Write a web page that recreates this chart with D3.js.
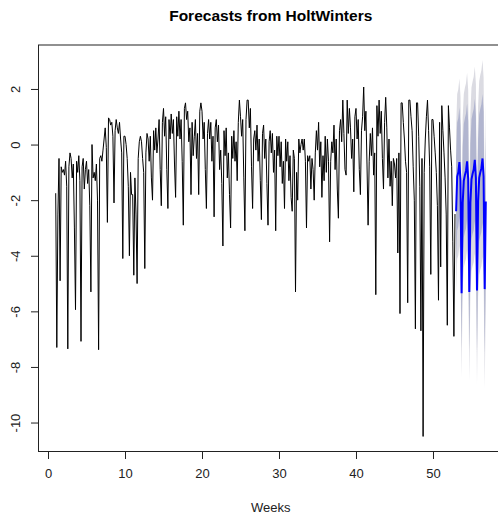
<!DOCTYPE html>
<html>
<head>
<meta charset="utf-8">
<script src="https://cdn.jsdelivr.net/npm/d3@7/dist/d3.min.js"></script>
<style>
  html, body { margin: 0; padding: 0; background: #fff; }
  svg { display: block; font-family: "Liberation Sans", Arial, sans-serif; }
</style>
</head>
<body>
<svg id="chart" width="498" height="516"></svg>
<script>
// ---------- DATA ----------
const chartTitle = "Forecasts from HoltWinters";
const xLabel = "Weeks";
const startWeek = 1;
const frequency = 7;
const xTicks = [0, 10, 20, 30, 40, 50];
const yTicks = [-10, -8, -6, -4, -2, 0, 2];

// observed series, one row per week (7 days)
const observedWeeks = [
  [-1.75, -7.3, -2.5, -0.5, -4.9, -0.8, -1.0],
  [-0.9, -1.1, -0.6, -1.5, -7.35, -0.8, -0.3],
  [-0.5, -1.2, -0.7, -3.0, -5.94, -0.6, -1.0],
  [-0.4, -1.3, -7.08, -0.8, -0.5, -1.6, -0.9],
  [-0.6, -1.4, -0.9, -2.2, -5.3, 0.0, -1.2],
  [-1.0, -1.3, -0.7, -2.0, -7.38, -0.5, -0.4],
  [-0.6, -0.2, 0.2, 0.6, -0.1, -2.8, 0.96],
  [0.9, 0.7, 0.8, 0.3, -2.1, 0.5, 0.9],
  [0.6, 0.4, 0.8, 0.2, -0.3, -4.1, 0.3],
  [0.3, 0.0, -0.5, -1.5, -4.0, -1.0, -1.8],
  [-1.8, -4.7, -1.2, -2.5, -5.0, -0.5, 0.1],
  [0.3, 0.1, -0.5, -1.0, -4.46, -0.3, 0.4],
  [0.2, -0.6, 0.3, -1.2, -2.0, 0.5, -0.2],
  [0.6, -0.3, 0.2, 0.9, -0.9, -2.2, 0.8],
  [1.3, 0.3, 1.0, -0.9, -2.3, 0.9, 0.2],
  [1.1, 0.4, 0.9, -0.7, -1.9, 1.0, 0.3],
  [1.2, 0.2, 0.9, -0.6, -2.9, 1.3, 1.5],
  [0.9, 1.2, 0.1, 0.6, -1.8, 0.8, -0.4],
  [0.3, 0.9, -0.5, 0.4, -1.8, 1.2, 1.5],
  [1.2, 0.2, 0.8, -0.9, -2.3, 0.4, 0.9],
  [0.2, 0.8, -0.6, 0.3, -2.6, 0.6, 0.9],
  [0.1, 0.7, -0.9, -0.2, -1.4, -3.65, 0.5],
  [-0.4, 0.6, -1.2, -0.3, -1.8, -3.0, 0.3],
  [-0.5, 0.5, -0.6, 0.1, -1.3, 0.8, 1.6],
  [1.0, 0.3, 0.9, -1.2, -3.1, 0.9, 1.6],
  [1.6, 0.6, 1.3, -0.8, -2.3, 0.2, 0.5],
  [-0.2, 0.7, -0.6, 0.2, -1.3, -2.7, 0.4],
  [0.7, -0.5, 0.2, -1.4, -2.9, 0.1, 0.5],
  [-0.3, 0.4, -1.0, -0.2, -3.1, 0.3, -0.4],
  [0.3, -0.8, 0.1, -1.4, -0.6, -2.3, 0.2],
  [-0.6, 0.1, -1.3, -0.4, -1.9, -2.4, -0.2],
  [-0.5, -5.3, -1.0, -2.0, 0.2, -0.3, 0.0],
  [0.2, -0.2, 0.2, -0.6, -3.0, -0.4, -0.6],
  [-0.4, -1.6, -0.5, -0.9, -2.0, -0.3, 0.5],
  [-0.2, 0.8, -0.8, 0.1, -1.9, -0.4, -1.3],
  [0.3, -1.0, 0.2, -0.6, -3.5, -0.6, 0.1],
  [-0.3, 0.7, -0.9, 0.2, -1.6, -2.65, 0.5],
  [0.9, 0.1, 1.6, 0.4, -0.9, -1.1, 1.6],
  [0.4, 1.3, 0.6, -0.5, 0.2, -1.7, 1.0],
  [1.3, 0.2, 0.9, -0.9, -1.8, 0.5, 1.0],
  [2.07, 0.5, 1.2, -0.7, -2.9, -0.6, 0.4],
  [-0.4, 0.6, -1.1, -0.3, -5.4, 1.4, 0.3],
  [1.6, 0.4, 1.2, -0.5, -1.6, 0.8, 1.7],
  [0.6, -1.2, 0.2, -1.5, -0.6, -2.2, -0.5],
  [-0.7, -1.2, -0.5, -3.9, -0.3, -6.08, 1.5],
  [1.5, 0.8, 0.2, -0.6, -1.0, -5.69, 1.6],
  [1.6, 1.0, 0.5, -0.8, -2.0, -6.63, 1.5],
  [1.5, 0.3, -1.5, -6.7, -0.5, -10.5, -1.0],
  [0.2, 1.0, 1.6, 0.5, -0.8, -4.67, 0.9],
  [0.9, 0.3, -0.3, -1.0, -2.2, -5.6, 0.8],
  [-4.4, 1.4, 0.5, -0.3, -1.2, -2.5, -6.5],
  [1.4, 0.6, -0.2, -0.8, -3.5, -6.9, -2.5]
];

// 28-day forecast (4 weeks)
const forecastMean = [
  -2.4, -1.15, -1.0, -0.63, -1.3, -5.35, -2.1,
  -1.3, -1.1, -0.95, -0.6, -1.25, -5.3, -2.1,
  -1.25, -1.05, -0.9, -0.55, -1.2, -5.25, -2.05,
  -1.2, -1.0, -0.85, -0.5, -1.15, -5.2, -2.05
];
const forecastHi95 = [
  0.55, 1.82, 1.99, 2.38, 1.73, -2.30, 0.97,
  1.82, 2.04, 2.21, 2.58, 1.95, -2.08, 1.14,
  2.05, 2.27, 2.44, 2.81, 2.18, -1.85, 1.37,
  2.28, 2.50, 2.67, 3.04, 2.41, -1.62, 1.55
];
const forecastLo95 = [
  -5.35, -4.12, -3.99, -3.64, -4.33, -8.40, -5.17,
  -4.42, -4.24, -4.11, -3.78, -4.45, -8.52, -5.34,
  -4.55, -4.37, -4.24, -3.91, -4.58, -8.65, -5.47,
  -4.68, -4.50, -4.37, -4.04, -4.71, -8.78, -5.65
];
const forecastHi80 = [
  -0.47, 0.79, 0.96, 1.34, 0.68, -3.36, -0.09,
  0.74, 0.95, 1.12, 1.48, 0.84, -3.19, 0.02,
  0.91, 1.12, 1.28, 1.65, 1.01, -3.03, 0.19,
  1.08, 1.29, 1.45, 1.82, 1.18, -2.86, 0.30
];
const forecastLo80 = [
  -4.33, -3.09, -2.96, -2.60, -3.28, -7.34, -4.11,
  -3.34, -3.15, -3.02, -2.68, -3.34, -7.41, -4.22,
  -3.41, -3.22, -3.08, -2.75, -3.41, -7.47, -4.29,
  -3.48, -3.29, -3.15, -2.82, -3.48, -7.54, -4.40
];

// ---------- BUILD ----------
const observed = observedWeeks.flat().map((v, i) => ({ t: startWeek + i / frequency, v }));
const nObs = observed.length;
const forecast = forecastMean.map((m, j) => ({
  t: startWeek + (nObs + j) / frequency,
  m, lo80: forecastLo80[j], hi80: forecastHi80[j], lo95: forecastLo95[j], hi95: forecastHi95[j]
}));

const tMin = observed[0].t, tMax = forecast[forecast.length - 1].t;
const yMin = d3.min([d3.min(observed, d => d.v), d3.min(forecastLo95)]);
const yMax = d3.max([d3.max(observed, d => d.v), d3.max(forecastHi95)]);
const px = (tMax - tMin) * 0.04, py = (yMax - yMin) * 0.04;

const L = 38.5, R = 503, T = 45, B = 451.5;
const x = d3.scaleLinear().domain([tMin - px, tMax + px]).range([L, R]);
const y = d3.scaleLinear().domain([yMin - py, yMax + py]).range([B, T]);

const svg = d3.select("#chart");

// title
svg.append("text").attr("x", (L + R) / 2).attr("y", 21)
  .attr("text-anchor", "middle").attr("font-weight", "bold").attr("font-size", "15.5px")
  .attr("fill", "#000").text(chartTitle);

// prediction intervals
const area95 = d3.area().x(d => x(d.t)).y0(d => y(d.lo95)).y1(d => y(d.hi95));
const area80 = d3.area().x(d => x(d.t)).y0(d => y(d.lo80)).y1(d => y(d.hi80));
svg.append("path").datum(forecast).attr("d", area95).attr("fill", "#DBDBE2");
svg.append("path").datum(forecast).attr("d", area80).attr("fill", "#B1B5CF");

// observed line
svg.append("path").datum(observed)
  .attr("d", d3.line().x(d => x(d.t)).y(d => y(d.v)))
  .attr("fill", "none").attr("stroke", "#000").attr("stroke-width", 1);

// forecast mean
svg.append("path").datum(forecast)
  .attr("d", d3.line().x(d => x(d.t)).y(d => y(d.m)))
  .attr("fill", "none").attr("stroke", "#0000FF").attr("stroke-width", 2);

// box
svg.append("rect").attr("x", L).attr("y", T).attr("width", R - L).attr("height", B - T)
  .attr("fill", "none").attr("stroke", "#222").attr("stroke-width", 1);

// axes
const xAxis = d3.axisBottom(x).tickValues(xTicks).tickSize(7.5).tickPadding(10).tickFormat(d3.format("d"));
const gx = svg.append("g").attr("transform", `translate(0,${B})`).call(xAxis);
gx.select(".domain").remove();
gx.selectAll("line").attr("stroke", "#222");
gx.selectAll("text").attr("font-size", "13px").attr("fill", "#222").attr("font-family", "Liberation Sans, Arial, sans-serif");

const yAxis = d3.axisLeft(y).tickValues(yTicks).tickSize(7.5).tickFormat(d3.format("d"));
const gy = svg.append("g").attr("transform", `translate(${L},0)`).call(yAxis);
gy.select(".domain").remove();
gy.selectAll("line").attr("stroke", "#222");
gy.selectAll("text").remove();
gy.selectAll(".tick").append("text")
  .attr("transform", "translate(-18.5,0) rotate(-90)")
  .attr("text-anchor", "middle").attr("font-size", "13px").attr("fill", "#222")
  .attr("font-family", "Liberation Sans, Arial, sans-serif")
  .text(d => d3.format("d")(d).replace("\u2212", "-"));

// x label
svg.append("text").attr("x", (L + R) / 2).attr("y", 511.5)
  .attr("text-anchor", "middle").attr("font-size", "13px").attr("fill", "#222").text(xLabel);
</script>
</body>
</html>
